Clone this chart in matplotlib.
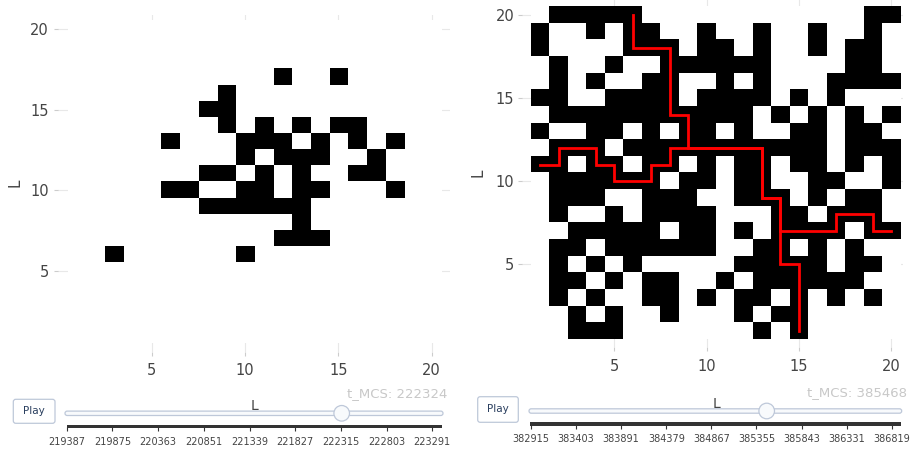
import numpy as np
import matplotlib
matplotlib.use("Agg")
import matplotlib.pyplot as plt
from matplotlib.colors import ListedColormap
from matplotlib.patches import FancyBboxPatch, Circle, Rectangle

plt.rcParams['font.family'] = ['DejaVu Sans']

# ---------------- data ----------------
# lattice rows listed from L=20 (top) down to L=1, columns L=1..20; '#' = occupied
left_rows = [
    "....................",
    "....................",
    "....................",
    "...........#..#.....",
    "........#...........",
    ".......##...........",
    "........#.#.#.##....",
    ".....#...###.#.#.#..",
    ".........#.###..#...",
    ".......##.#.#..##...",
    ".....##..##.##...#..",
    ".......######.......",
    "............#.......",
    "...........###......",
    "..#......#..........",
    "....................",
    "....................",
    "....................",
    "....................",
    "....................",
]
right_rows = [
    ".#####............##",
    "#..#.##..#..#..#..#.",
    "#....###.##.#..#.##.",
    ".#..#..######....##.",
    ".#.#..##..#.#...####",
    "##..####.####.#.#...",
    ".###########.#.#.#.#",
    "#..##.#.##.#..##.##.",
    ".###.###########.###",
    "##.##.##.#.##.##.#.#",
    ".######.##.##..##..#",
    ".###..###..###.#.##.",
    ".#..#.####...##.###.",
    "..#####.##.#.####.##",
    ".##.######..##.#.#..",
    ".#.#.#.....#####.##.",
    ".##.#.##..#.######..",
    ".#.#..##.#.##.#.#.#.",
    "..#.#..#...#.##.....",
    "..###.......#.#.....",
]
# spanning paths (red)
path_v_x = [6, 6, 8, 8, 9, 9, 13, 13, 14, 14, 15, 15]
path_v_y = [20, 18, 18, 14, 14, 12, 12, 9, 9, 5, 5, 1]
path_h_x = [1, 2, 2, 4, 4, 5, 5, 7, 7, 8, 8, 13, 13, 14, 14, 17, 17, 19, 19, 20]
path_h_y = [11, 11, 12, 12, 11, 11, 10, 10, 11, 11, 12, 12, 9, 9, 7, 7, 8, 8, 7, 7]

tick_vals = [5, 10, 15, 20]
left_steps = [219387, 219875, 220363, 220851, 221339, 221827, 222315, 222803, 223291]
right_steps = [382915, 383403, 383891, 384379, 384867, 385355, 385843, 386331, 386819]
left_time = 222324
right_time = 385468


def to_array(rows):
    assert all(len(r) == 20 for r in rows)
    return np.array([[1 if c == '#' else 0 for c in r] for r in rows])


W, H = 910, 450
fig = plt.figure(figsize=(W / 100, H / 100), dpi=100)
cmap = ListedColormap(['white', 'black'])


def add_ax(x0, x1, y0, y1):
    return fig.add_axes([x0 / W, 1 - y1 / H, (x1 - x0) / W, (y1 - y0) / H])


def style(ax, xlim, ylim, ypad):
    ax.set_xlim(*xlim)
    ax.set_ylim(*ylim)
    ax.set_xticks(tick_vals)
    ax.set_yticks(tick_vals)
    for s in ax.spines.values():
        s.set_visible(False)
    ax.grid(True, color='#e8e8e8', lw=0.8)
    ax.set_axisbelow(True)
    ax.tick_params(length=3, width=0.8, color='#cccccc', labelcolor='#444444',
                   labelsize=10.5)
    ax.tick_params(axis='x', pad=5.5)
    ax.tick_params(axis='y', pad=ypad)


axL = add_ax(58.33, 450.3, 14.83, 351.5)
axL.imshow(to_array(left_rows), cmap=cmap, vmin=0, vmax=1, origin='upper',
           extent=(0.5, 20.5, 0.5, 20.5), aspect='auto', interpolation='nearest',
           zorder=1)
style(axL, (0, 21), (0, 20.9), 3.8)

axR = add_ax(521.9, 903.3, 0.04, 347.4)
axR.imshow(to_array(right_rows), cmap=cmap, vmin=0, vmax=1, origin='upper',
           extent=(0.5, 20.5, 0.5, 20.5), aspect='auto', interpolation='nearest',
           zorder=1)
axR.plot(path_v_x, path_v_y, color='#ff0000', lw=2, zorder=3, solid_joinstyle='miter')
axR.plot(path_h_x, path_h_y, color='#ff0000', lw=2, zorder=3, solid_joinstyle='miter')
style(axR, (0, 20.65), (0, 20.9), 2.5)

# ---------------- overlay: axis titles, sliders, buttons ----------------
ov = fig.add_axes([0, 0, 1, 1], zorder=5)
ov.set_xlim(0, W)
ov.set_ylim(H, 0)
ov.axis('off')
ov.patch.set_visible(False)

txt = '#444444'
ov.text(15, 182.5, 'L', rotation=90, ha='center', va='center', fontsize=11, color=txt)
ov.text(478.5, 173, 'L', rotation=90, ha='center', va='center', fontsize=11, color=txt)


def slider(tx0, tx1, ty, knob_x, bx0, bx1, by, lx0, lx1, ly, steps,
           play, Lpos, tpos, tval):
    ov.add_patch(FancyBboxPatch((tx0, ty - 2.2), tx1 - tx0, 4.4,
                                boxstyle='round,pad=0,rounding_size=2.2',
                                fc='#f8fafc', ec='#bec8d9', lw=0.9))
    ov.add_patch(Circle((knob_x, ty), 7.8, fc='#f8fafc', ec='#bec8d9', lw=0.9, zorder=3))
    ov.add_patch(Rectangle((bx0, by - 1.6), bx1 - bx0, 3.2, fc='#333333', ec='none'))
    xs = np.linspace(lx0, lx1, len(steps))
    ov.vlines(xs, by, by + 4.5, color='#333333', lw=0.8)
    for x, s in zip(xs, steps):
        ov.text(x, ly, str(s), ha='center', va='center', fontsize=7, color=txt)
    px0, py0, px1, py1 = play
    ov.add_patch(FancyBboxPatch((px0, py0), px1 - px0, py1 - py0,
                                boxstyle='round,pad=0,rounding_size=2.5',
                                fc='white', ec='#bec8d9', lw=0.9))
    ov.text((px0 + px1) / 2, (py0 + py1) / 2, 'Play', ha='center', va='center',
            fontsize=7.5, color='#2a3f5f')
    ov.text(Lpos[0], Lpos[1], 'L', ha='center', va='center', fontsize=10, color=txt)
    ov.text(tpos[0], tpos[1], f't_MCS: {tval}', ha='right', va='center',
            fontsize=9.5, color='#c8c8c8')


slider(65, 443, 413.3, 341.7, 66.7, 442, 426.7, 66.7, 432.3, 441.7, left_steps,
       (13.3, 399.3, 55, 423.3), (254.3, 405.5), (447, 394), left_time)
slider(529, 901.7, 411, 766.7, 530.3, 901, 424, 531, 891.7, 439.3, right_steps,
       (477.7, 396.7, 518.3, 422.3), (716, 404.5), (906.7, 392.5), right_time)

fig.savefig('out.png', dpi=100)
